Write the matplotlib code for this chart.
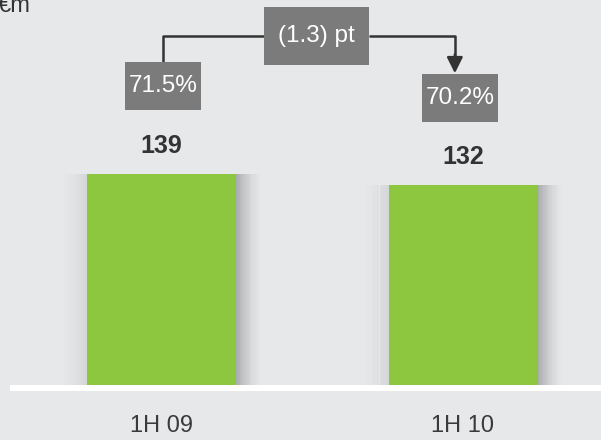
import numpy as np
import matplotlib.pyplot as plt
from matplotlib.patches import Rectangle

# data
periods = ['1H 09', '1H 10']
values = [139, 132]
ratios = ['71.5%', '70.2%']
delta_label = '(1.3) pt'
unit_label = '€m'

bg = '#e7e8ea'
bar_col = '#8dc63f'
box_col = '#7b7b7b'
line_col = '#333333'

plt.rcParams['font.family'] = ['Liberation Sans', 'DejaVu Sans']

fig = plt.figure(figsize=(6.01, 4.40), dpi=100)
fig.patch.set_facecolor(bg)
ax = fig.add_axes([10/601, 49/440, 591/601, 391/440])
ax.set_facecolor(bg)

ppu_y = 1.516   # px per data unit
ppu_x = 301.5
ylo = -6/ppu_y
ax.set_ylim(ylo, ylo + 391/ppu_y)
ax.set_xlim(-151.5/ppu_x, 1 + 138/ppu_x)

x = np.arange(len(values))
w = 149/ppu_x

# soft shadow next to the bars
for s in range(14):
    a = 0.4*(1 - s/14)**1.6
    ax.bar(x + w/2 + s*1.8/ppu_x, values, width=1.8/ppu_x, align='edge',
           color='#555555', alpha=a, linewidth=0, zorder=1)
    ax.bar(x - w/2 - (s+1)*1.8/ppu_x, values, width=1.8/ppu_x, align='edge',
           color='#555555', alpha=a*0.3, linewidth=0, zorder=1)

ax.bar(x, values, width=w, color=bar_col, linewidth=0, zorder=2)
ax.axhspan(ylo, 0, color='white', zorder=3, linewidth=0)

for xi, v in zip(x, values):
    ax.text(xi, v + 18.5, str(v), ha='center', va='center', fontsize=18,
            fontweight='bold', color='#333333', zorder=4)

# ratio boxes
bw, bh = 76/ppu_x, 48/ppu_y
box_x = [0.005, 0.99]
box_y = [197.2, 189.3]
for bx, by, t in zip(box_x, box_y, ratios):
    ax.add_patch(Rectangle((bx - bw/2, by - bh/2), bw, bh, color=box_col,
                           linewidth=0, zorder=5))
    ax.text(bx, by, t, ha='center', va='center', fontsize=17.5,
            color='white', zorder=6)

# delta box and connector
dx, dy = 0.514, 230.2
dw, dh = 105/ppu_x, 58/ppu_y
lw = 1.8
ax.plot([box_x[0], box_x[0], dx - dw/2], [box_y[0] + bh/2, dy, dy],
        color=line_col, lw=lw, zorder=4, solid_capstyle='butt')
ax.plot([dx + dw/2, box_x[1] - 0.017, box_x[1] - 0.017], [dy, dy, box_y[1] + bh/2 + 12],
        color=line_col, lw=lw, zorder=4, solid_capstyle='butt')
ax.annotate('', xy=(box_x[1] - 0.017, box_y[1] + bh/2 + 0.5),
            xytext=(box_x[1] - 0.017, box_y[1] + bh/2 + 13),
            arrowprops=dict(arrowstyle='-|>', color=line_col, lw=lw,
                            mutation_scale=24, shrinkA=0, shrinkB=0), zorder=4)
ax.add_patch(Rectangle((dx - dw/2, dy - dh/2), dw, dh, color=box_col,
                       linewidth=0, zorder=5))
ax.text(dx, dy, delta_label, ha='center', va='center', fontsize=17.5,
        color='white', zorder=6)

ax.set_xticks(x)
ax.set_xticklabels(periods, fontsize=17, color='#3a3a3a')
ax.tick_params(axis='x', length=0, pad=17)
ax.set_yticks([])
for sp in ax.spines.values():
    sp.set_visible(False)

fig.text(-2/601, 1 - 12/440, unit_label, ha='left', va='baseline',
         fontsize=17, color='#333333')

fig.savefig('out.png', dpi=100, facecolor=bg)
